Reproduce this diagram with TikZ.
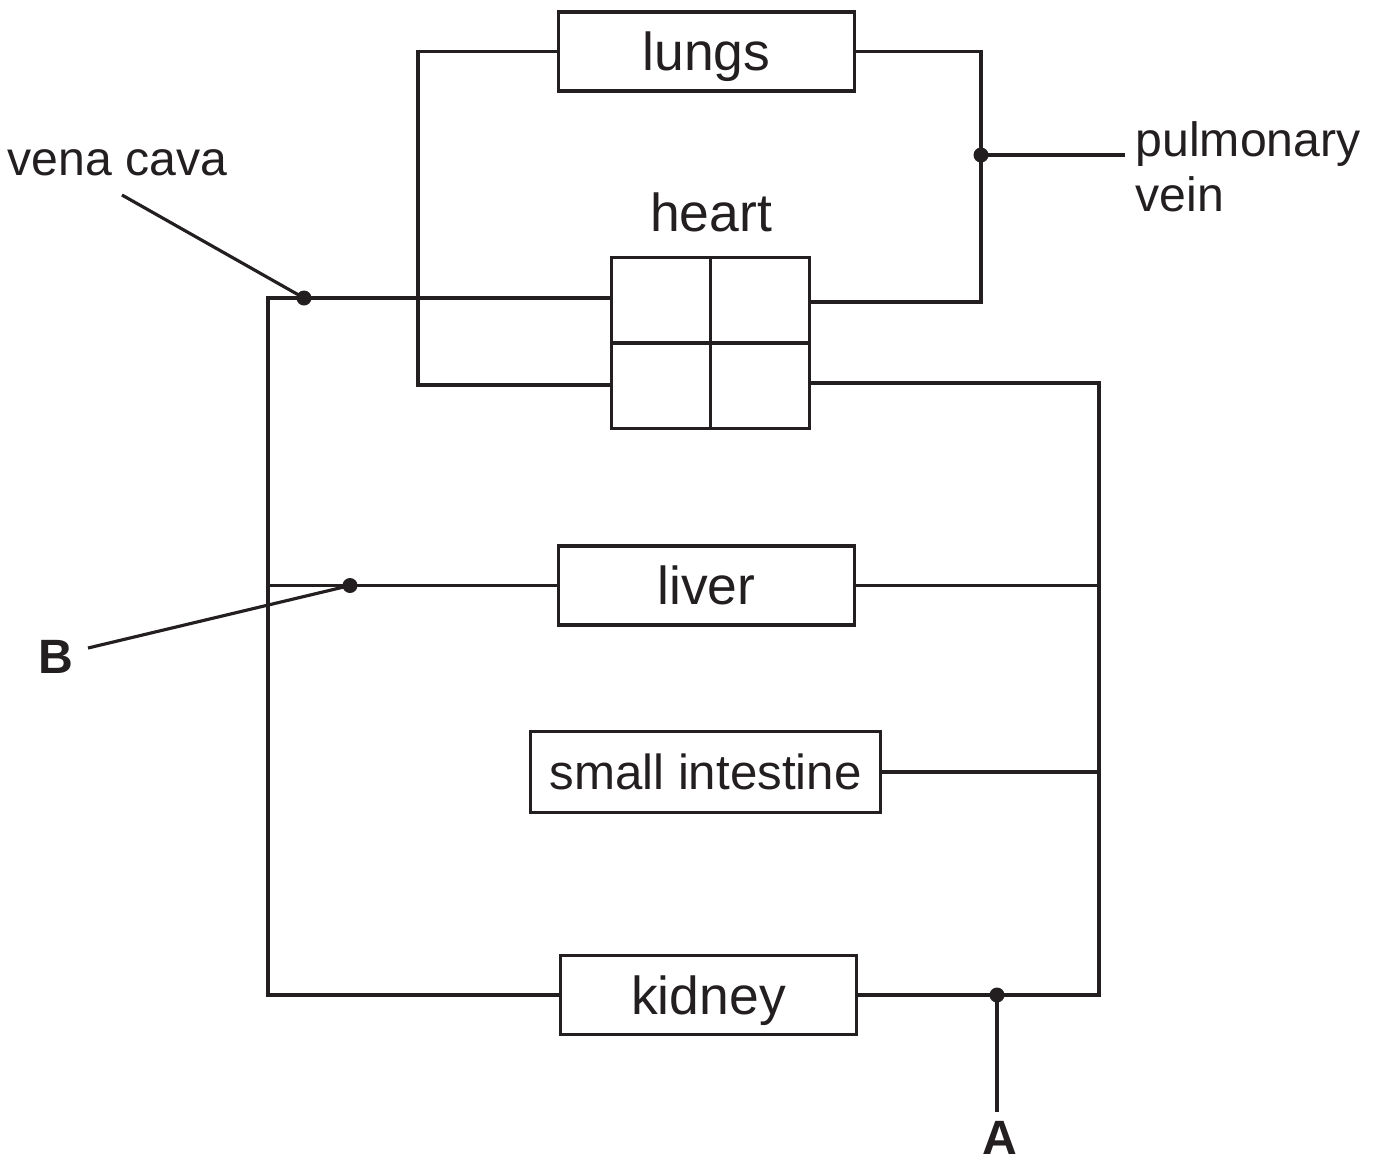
\documentclass[tikz,border=0pt]{standalone}
\usepackage{fontspec}
\setmainfont{Liberation Sans}
\usetikzlibrary{calc}
\definecolor{ink}{HTML}{231F20}
\tikzset{
  organ/.style={draw=ink,line width=0.9pt,inner sep=0pt,minimum width=2.96cm,minimum height=0.79cm,text depth=0pt,text=ink,font=\fontsize{15.2}{16}\selectfont},
  vessel/.style={draw=ink,line width=0.9pt},
  joint/.style={circle,fill=ink,inner sep=0pt,minimum size=0.15cm},
  tag/.style={inner sep=0pt,text=ink,font=\fontsize{13.7}{15.6}\selectfont},
  letter/.style={inner sep=0pt,text=ink,font=\fontsize{13.7}{15.6}\selectfont\bfseries}
}
\begin{document}
\begin{tikzpicture}[x=0.01cm,y=-0.01cm]
\useasboundingbox (0,0) rectangle (1381,1162);
% organs
\node[organ] (lungs) at (706.5,51.5) {lungs};
\node[organ,minimum width=1.98cm,minimum height=1.71cm] (heart) at (710.5,343) {};
\draw[vessel] (heart.north)--(heart.south) (heart.west)--(heart.east);
\node[organ,draw=none] (heartlbl) at (711,212) {heart};
\node[organ] (liver) at (706.5,585.5) {liver};
\node[organ,minimum width=3.5cm,minimum height=0.81cm,font=\fontsize{14}{16}\selectfont] (gut) at (705.5,772) {small intestine};
\node[organ] (kidney) at (708.5,995) {kidney};
% heart ports and corners
\coordinate (hLU) at ($(heart.west)+(0,-45)$); \coordinate (hLL) at ($(heart.west)+(0,42)$);
\coordinate (hRU) at ($(heart.east)+(0,-41)$); \coordinate (hRL) at ($(heart.east)+(0,40)$);
\coordinate (vcL) at (268,298); \coordinate (lcorner) at (418,385); \coordinate (rcorner) at (981,302); \coordinate (bcorner) at (1099,383);
% circuits
\draw[vessel] (lungs.west) -| (lcorner) -- (hLL);
\draw[vessel] (lungs.east) -| (rcorner) -- (hRU);
\draw[vessel] (hLU) -- (vcL) |- (kidney.west);
\draw[vessel] (vcL |- liver.west) -- (liver.west);
\draw[vessel] (hRL) -- (bcorner) |- (kidney.east);
\draw[vessel] (liver.east) -- (liver.east -| bcorner);
\draw[vessel] (gut.east) -- (gut.east -| bcorner);
% labelled points
\node[joint] (vcdot) at (304,298) {}; \node[joint] (pvdot) at (981,155) {};
\node[joint] (bdot) at (350,585.5) {}; \node[joint] (adot) at (997,995) {};
\coordinate (vctail) at (122,195); \coordinate (pvtail) at (1125,155);
\coordinate (btail) at (88,648); \coordinate (atail) at (997,1112);
\node[tag,anchor=base west] (vclbl) at (7,175) {vena cava};
\node[tag,anchor=north west,align=left] (pvlbl) at (1135,121) {pulmonary\\vein};
\node[letter] (B) at (56,657) {B};
\node[letter] (A) at (1000,1138) {A};
\foreach \a/\b in {vctail/vcdot,pvtail/pvdot,btail/bdot,atail/adot}{\draw[vessel] (\a) -- (\b.center);}
\end{tikzpicture}
\end{document}
